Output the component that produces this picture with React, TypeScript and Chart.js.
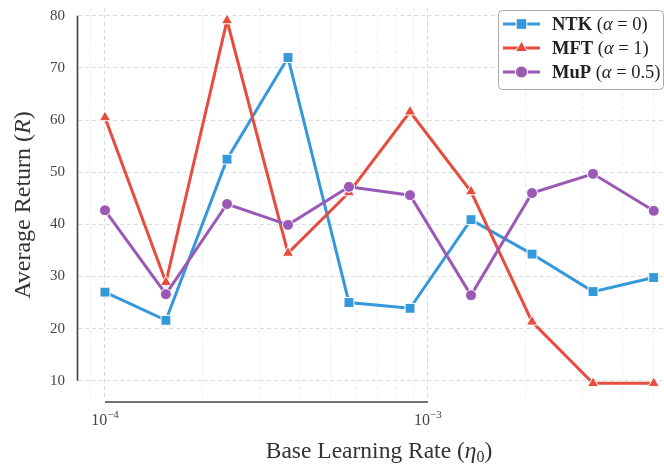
import React, { useEffect, useRef } from 'react';
import { Chart, registerables } from 'chart.js';

Chart.register(...registerables);

// ---- data ----
const learningRates = [1.0e-4, 1.544e-4, 2.387e-4, 3.687e-4, 5.694e-4, 8.8e-4, 1.359e-3, 2.1e-3, 3.244e-3, 5.0e-3];
const ntkReturns = [27.0, 21.6, 52.5, 72.0, 25.0, 23.9, 40.9, 34.3, 27.1, 29.8];
const mftReturns = [60.5, 28.9, 79.1, 34.5, 46.1, 61.6, 46.3, 21.3, 9.5, 9.5];
const mupReturns = [42.7, 26.6, 43.9, 39.9, 47.2, 45.6, 26.4, 46.0, 49.7, 42.6];
const seriesNames = ['NTK', 'MFT', 'MuP'];
const alphaLabels = ['0', '1', '0.5'];
const yTicks = [10, 20, 30, 40, 50, 60, 70, 80];
const xMajorTicks = [1e-4, 1e-3];
const xMinorTicks = [9e-5, 2e-4, 3e-4, 4e-4, 5e-4, 6e-4, 7e-4, 8e-4, 9e-4, 2e-3, 3e-3, 4e-3, 5e-3];
const xTickExponents = ['−4', '−3'];

const COLORS = ['#3498db', '#e74c3c', '#9b59b6'];
const STYLES = ['rect', 'triangle', 'circle'];
const RADII = [7, 6.5, 5.5];
const SERIF = '"Liberation Serif", "DejaVu Serif", serif';

type Run = { t: string; f: string; dy?: number };

function measureRuns(ctx: CanvasRenderingContext2D, runs: Run[]) {
  let total = 0;
  runs.forEach((r) => {
    ctx.font = r.f;
    total += ctx.measureText(r.t).width;
  });
  return total;
}

function drawRuns(ctx: CanvasRenderingContext2D, runs: Run[], x: number, y: number, align: 'center' | 'left') {
  const total = measureRuns(ctx, runs);
  let cx = align === 'center' ? x - total / 2 : x;
  ctx.textAlign = 'left';
  runs.forEach((r) => {
    ctx.font = r.f;
    ctx.fillText(r.t, cx, y + (r.dy || 0));
    cx += ctx.measureText(r.t).width;
  });
}

function drawMarker(ctx: CanvasRenderingContext2D, style: string, x: number, y: number, r: number, color: string) {
  ctx.save();
  ctx.fillStyle = color;
  ctx.strokeStyle = '#ffffff';
  ctx.lineWidth = 1;
  ctx.beginPath();
  if (style === 'rect') {
    const s = r * Math.SQRT1_2;
    ctx.rect(x - s, y - s, 2 * s, 2 * s);
  } else if (style === 'triangle') {
    ctx.moveTo(x, y - r);
    ctx.lineTo(x + r * Math.sin((2 * Math.PI) / 3), y - r * Math.cos((2 * Math.PI) / 3));
    ctx.lineTo(x + r * Math.sin((4 * Math.PI) / 3), y - r * Math.cos((4 * Math.PI) / 3));
    ctx.closePath();
  } else {
    ctx.arc(x, y, r, 0, Math.PI * 2);
  }
  ctx.fill();
  ctx.stroke();
  ctx.restore();
}

const decorPlugin = {
  id: 'decor',
  afterDraw(chart: any) {
    const ctx: CanvasRenderingContext2D = chart.ctx;
    const xs = chart.scales.x;
    const ys = chart.scales.y;
    ctx.save();
    // spines (trimmed, offset)
    ctx.strokeStyle = '#444444';
    ctx.lineWidth = 1.6;
    ctx.beginPath();
    const sx = chart.chartArea.left - 0.5;
    ctx.moveTo(sx, ys.getPixelForValue(yTicks[yTicks.length - 1]));
    ctx.lineTo(sx, ys.getPixelForValue(yTicks[0]));
    const sy = chart.chartArea.bottom + 3;
    ctx.moveTo(xs.getPixelForValue(xMajorTicks[0]), sy);
    ctx.lineTo(xs.getPixelForValue(xMajorTicks[xMajorTicks.length - 1]), sy);
    ctx.stroke();

    // x tick labels
    ctx.fillStyle = '#444444';
    ctx.textBaseline = 'alphabetic';
    xMajorTicks.forEach((v, i) => {
      const px = xs.getPixelForValue(v);
      drawRuns(
        ctx,
        [
          { t: '10', f: `16px ${SERIF}` },
          { t: xTickExponents[i], f: `11px ${SERIF}`, dy: -7 },
        ],
        px,
        425,
        'center'
      );
    });

    // axis titles
    ctx.fillStyle = '#333333';
    drawRuns(
      ctx,
      [
        { t: 'Base Learning Rate (', f: `23.5px ${SERIF}` },
        { t: 'η', f: `italic 23.5px ${SERIF}` },
        { t: '0', f: `16px ${SERIF}`, dy: 4 },
        { t: ')', f: `23.5px ${SERIF}` },
      ],
      379,
      458,
      'center'
    );
    ctx.save();
    ctx.translate(30, 205);
    ctx.rotate(-Math.PI / 2);
    drawRuns(
      ctx,
      [
        { t: 'Average Return (', f: `24px ${SERIF}` },
        { t: 'R', f: `italic 24px ${SERIF}` },
        { t: ')', f: `24px ${SERIF}` },
      ],
      0,
      0,
      'center'
    );
    ctx.restore();

    // legend
    const bx = 498.5, by = 10.5, bw = 165, bh = 79, rr = 4;
    ctx.beginPath();
    ctx.moveTo(bx + rr, by);
    ctx.lineTo(bx + bw - rr, by);
    ctx.quadraticCurveTo(bx + bw, by, bx + bw, by + rr);
    ctx.lineTo(bx + bw, by + bh - rr);
    ctx.quadraticCurveTo(bx + bw, by + bh, bx + bw - rr, by + bh);
    ctx.lineTo(bx + rr, by + bh);
    ctx.quadraticCurveTo(bx, by + bh, bx, by + bh - rr);
    ctx.lineTo(bx, by + rr);
    ctx.quadraticCurveTo(bx, by, bx + rr, by);
    ctx.closePath();
    ctx.fillStyle = 'rgba(255,255,255,0.85)';
    ctx.fill();
    ctx.strokeStyle = '#aaaaaa';
    ctx.lineWidth = 1;
    ctx.stroke();

    const rowsY = [24, 48, 72];
    seriesNames.forEach((name, i) => {
      const y = rowsY[i];
      ctx.strokeStyle = COLORS[i];
      ctx.lineWidth = 3;
      ctx.beginPath();
      ctx.moveTo(503, y);
      ctx.lineTo(540, y);
      ctx.stroke();
      drawMarker(ctx, STYLES[i], 521.5, y, RADII[i] + 0.5, COLORS[i]);
      ctx.fillStyle = '#222222';
      ctx.textBaseline = 'middle';
      drawRuns(
        ctx,
        [
          { t: name, f: `bold 18.5px ${SERIF}` },
          { t: ' (', f: `18.5px ${SERIF}` },
          { t: 'α', f: `italic 18.5px ${SERIF}` },
          { t: ' = ' + alphaLabels[i] + ')', f: `18.5px ${SERIF}` },
        ],
        552,
        y + 1,
        'left'
      );
    });
    ctx.restore();
  },
};

export default function App() {
  const ref = useRef<HTMLCanvasElement | null>(null);
  useEffect(() => {
    if (!ref.current) return;
    const series = [ntkReturns, mftReturns, mupReturns];
    const chart = new Chart(ref.current, {
      type: 'line',
      data: {
        datasets: series.map((vals, i) => ({
          label: seriesNames[i],
          data: vals.map((v, k) => ({ x: learningRates[k], y: v })),
          borderColor: COLORS[i],
          backgroundColor: COLORS[i],
          borderWidth: 3,
          pointStyle: STYLES[i] as any,
          pointRadius: RADII[i],
          pointBackgroundColor: COLORS[i],
          pointBorderColor: '#ffffff',
          pointBorderWidth: 1,
          tension: 0,
          clip: false as any,
          order: 2 - i,
        })),
      },
      options: {
        animation: false,
        responsive: false,
        layout: { autoPadding: false, padding: { left: 0, right: 0, top: 8, bottom: 0 } },
        plugins: { legend: { display: false }, tooltip: { enabled: false } },
        scales: {
          x: {
            type: 'logarithmic',
            min: 8.25e-5,
            max: 5.38e-3,
            afterBuildTicks: (s: any) => {
              s.ticks = [...xMinorTicks, ...xMajorTicks].sort((a, b) => a - b).map((v) => ({ value: v }));
            },
            afterFit: (s: any) => {
              s.height = 69;
            },
            ticks: { display: false },
            grid: {
              drawTicks: false,
              color: (c: any) => (c.tick && xMajorTicks.includes(c.tick.value) ? '#d9d9d9' : '#ededed'),
              lineWidth: 1,
            },
            border: { display: false, dash: [4, 3] },
          },
          y: {
            type: 'linear',
            min: 6.5,
            max: 81.5,
            afterBuildTicks: (s: any) => {
              s.ticks = yTicks.map((v) => ({ value: v }));
            },
            afterFit: (s: any) => {
              s.width = 78;
              s.paddingTop = 0;
              s.paddingBottom = 0;
            },
            ticks: {
              padding: 13,
              color: '#444444',
              font: { family: SERIF, size: 15 },
              callback: (v: any) => String(v),
            },
            grid: { drawTicks: false, color: '#dddddd', lineWidth: 1 },
            border: { display: false, dash: [4, 3] },
          },
        },
      },
      plugins: [decorPlugin],
    });
    return () => chart.destroy();
  }, []);
  return (
    <div style={{ position: 'fixed', left: 0, top: 0, width: 664, height: 468, background: '#fff' }}>
      <canvas ref={ref} width={664} height={468} />
    </div>
  );
}
